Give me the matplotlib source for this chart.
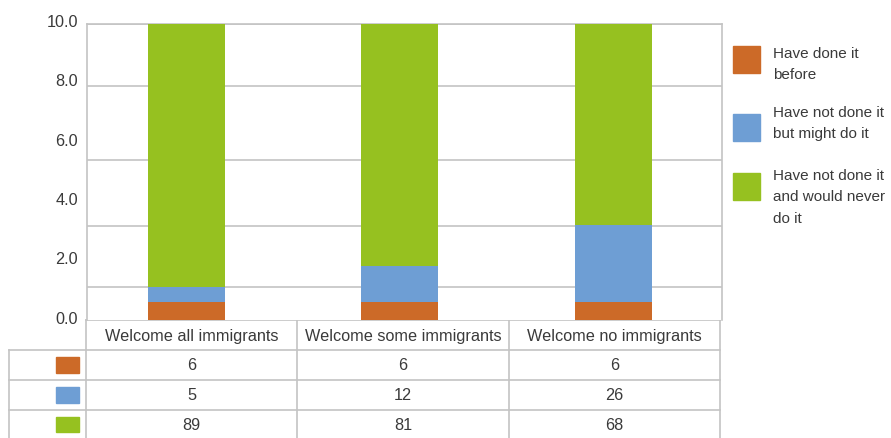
import matplotlib
matplotlib.use("Agg")
import matplotlib.pyplot as plt
from matplotlib.patches import Rectangle
from matplotlib.ticker import FuncFormatter, FixedLocator
from matplotlib.transforms import ScaledTranslation

categories = ["Welcome all immigrants", "Welcome some immigrants", "Welcome no immigrants"]
series_names = ["Have done it\nbefore", "Have not done it\nbut might do it",
                "Have not done it\nand would never\ndo it"]
done_before = [6, 6, 6]
might_do = [5, 12, 26]
never_do = [89, 81, 68]
series = [done_before, might_do, never_do]
colors = ["#CC6A28", "#6E9ED4", "#96C120"]
ytick_values = [0, 20, 40, 60, 80, 100]
grid_levels = [11.2, 31.8, 54.0, 78.9, 100]

W, H = 891, 438
plt.rcParams['font.family'] = ['Liberation Sans', 'DejaVu Sans']
TXT = "#3a3a3a"
GRID = "#c4c4c4"
FS = 11.7
LEG_FS = 11.0

fig = plt.figure(figsize=(W / 100, H / 100), dpi=100)

# main plot area (100% stacked)
L, R, T, B = 87, 722, 23.7, 320
ax = fig.add_axes([L / W, 1 - B / H, (R - L) / W, (B - T) / H])
x = list(range(len(categories)))
totals = [sum(col) for col in zip(*series)]
bottom = [0] * len(categories)
for vals, c in zip(series, colors):
    pct = [v / t * 100 for v, t in zip(vals, totals)]
    ax.bar(x, pct, width=0.36, bottom=bottom, color=c, zorder=3)
    bottom = [b + p for b, p in zip(bottom, pct)]
ax.set_xlim(-0.466, 2.509)
ax.set_ylim(0, 100)
ax.yaxis.set_major_locator(FixedLocator(ytick_values))
ax.yaxis.set_major_formatter(FuncFormatter(lambda v, p: f"{v / 10:.1f}"))
ax.tick_params(axis='y', length=0, pad=6.3, labelsize=FS, labelcolor=TXT)
ax.tick_params(axis='x', length=0, labelbottom=False)
for g in grid_levels:
    ax.axhline(g, color=GRID, lw=1.2, zorder=1)
for s in ["top", "right", "left"]:
    ax.spines[s].set_color(GRID)
    ax.spines[s].set_linewidth(1.2)
ax.spines["bottom"].set_visible(False)
shift = ScaledTranslation(0, 2.5 / 100, fig.dpi_scale_trans)
for lbl in ax.get_yticklabels():
    lbl.set_transform(lbl.get_transform() + shift)

# overlay in pixel coordinates for table and legend
ov = fig.add_axes([0, 0, 1, 1], zorder=-1)
ov.set_xlim(0, W)
ov.set_ylim(H, 0)
ov.axis("off")

col_left, col_w = 86, 211.4
label_left = 9
header_top = 320
row_tops = [350, 380, 409.5]
row_h = 29.5
n = len(categories)
col_edges = [col_left + i * col_w for i in range(n + 1)]
table_bottom = H + 5

for xe in col_edges:
    ov.plot([xe, xe], [header_top, table_bottom], color=GRID, lw=1.2)
ov.plot([label_left, label_left], [row_tops[0], table_bottom], color=GRID, lw=1.2)
ov.plot([col_edges[0], col_edges[-1]], [header_top, header_top], color=GRID, lw=1.2)
for rt in row_tops:
    ov.plot([label_left, col_edges[-1]], [rt, rt], color=GRID, lw=1.2)

for i, cat in enumerate(categories):
    ov.text((col_edges[i] + col_edges[i + 1]) / 2, (header_top + row_tops[0]) / 2 + 1, cat,
            ha="center", va="center", fontsize=FS, color=TXT)
for r, (vals, c) in enumerate(zip(series, colors)):
    ymid = row_tops[r] + row_h / 2
    ov.add_patch(Rectangle((56, ymid - 7.5), 23, 15.5, color=c))
    for i, v in enumerate(vals):
        ov.text((col_edges[i] + col_edges[i + 1]) / 2, ymid + 1, str(v),
                ha="center", va="center", fontsize=FS, color=TXT)

# legend
leg_tops = [46, 114, 173]
leg_text_tops = [47, 106, 169]
for name, c, lt, tt in zip(series_names, colors, leg_tops, leg_text_tops):
    ov.add_patch(Rectangle((733, lt), 27, 27, color=c))
    ov.text(773, tt, name, ha="left", va="top", fontsize=LEG_FS, color=TXT,
            linespacing=1.66)

fig.savefig("out.png", dpi=100)
